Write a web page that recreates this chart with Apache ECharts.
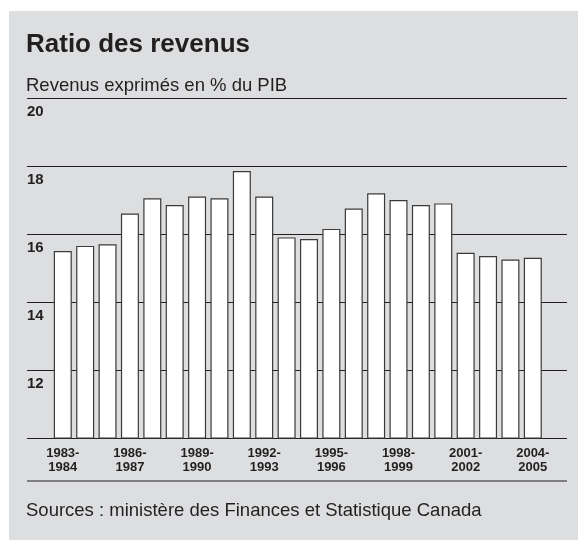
<!DOCTYPE html>
<html>
<head>
<meta charset="utf-8">
<script src="https://cdn.jsdelivr.net/npm/echarts@6/dist/echarts.min.js"></script>
<style>
  html, body { margin: 0; padding: 0; background: #ffffff; }
  #chart { width: 578px; height: 540px; }
</style>
</head>
<body>
<div id="chart"></div>
<script>
// ratio des revenus, % du PIB
const years = ['1983-1984', '1984-1985', '1985-1986', '1986-1987', '1987-1988', '1988-1989',
  '1989-1990', '1990-1991', '1991-1992', '1992-1993', '1993-1994', '1994-1995',
  '1995-1996', '1996-1997', '1997-1998', '1998-1999', '1999-2000', '2000-2001',
  '2001-2002', '2002-2003', '2003-2004', '2004-2005'];
const ratio = [15.5, 15.65, 15.7, 16.6, 17.05, 16.85, 17.1, 17.05, 17.85, 17.1, 15.9, 15.85,
  16.15, 16.75, 17.2, 17.0, 16.85, 16.9, 15.45, 15.35, 15.25, 15.3];
const yTicks = [10, 12, 14, 16, 18, 20];

const ink = '#231f20';
const chart = echarts.init(document.getElementById('chart'));

chart.setOption({
  animation: false,
  backgroundColor: '#ffffff',
  textStyle: { fontFamily: 'Liberation Sans' },
  title: [
    { text: 'Ratio des revenus', left: 21, top: 27,
      textStyle: { fontSize: 26, fontWeight: 'bold', color: ink } },
    { text: 'Revenus exprimés en % du PIB', left: 21, top: 71,
      textStyle: { fontSize: 18.5, fontWeight: 'normal', color: ink } },
    { text: 'Sources : ministère des Finances et Statistique Canada', left: 21, top: 496,
      textStyle: { fontSize: 18.5, fontWeight: 'normal', color: ink } }
  ],
  graphic: [
    { type: 'rect', z: -10, shape: { x: 9, y: 11, width: 569, height: 529 },
      style: { fill: '#dddee0' } },
    { type: 'line', shape: { x1: 27, y1: 481, x2: 567, y2: 481 },
      style: { stroke: ink, lineWidth: 1.2 } }
  ],
  grid: [
    { left: 27, right: 11, top: 98, bottom: 102 },
    { left: 51.6, right: 34, top: 98, bottom: 102 }
  ],
  xAxis: [
    { gridIndex: 0, type: 'value', min: 0, max: 1, show: false },
    {
      gridIndex: 1, type: 'category', data: years,
      axisLine: { show: false }, axisTick: { show: false },
      axisLabel: {
        interval: 2, margin: 8,
        fontFamily: 'Liberation Sans', fontWeight: 'bold', fontSize: 13,
        lineHeight: 14, color: ink,
        formatter: v => v.replace('-', '-\n')
      }
    }
  ],
  yAxis: [
    {
      gridIndex: 0, type: 'value', min: yTicks[0], max: yTicks[yTicks.length - 1], interval: 2,
      axisLine: { show: false }, axisTick: { show: false },
      splitLine: { show: true, lineStyle: { color: ink, width: 1.2 } },
      axisLabel: {
        inside: true, margin: 0, verticalAlign: 'top', padding: [6, 0, 0, 0],
        fontSize: 15, fontWeight: 'bold', color: ink,
        formatter: v => (v === yTicks[0] ? '' : String(v))
      }
    },
    { gridIndex: 1, type: 'value', min: 10, max: 20, show: false }
  ],
  series: [
    {
      type: 'bar', xAxisIndex: 1, yAxisIndex: 1, data: ratio,
      barWidth: 18,
      itemStyle: { color: '#ffffff', borderColor: '#3a3a3a', borderWidth: 1.2 }
    }
  ]
});
</script>
</body>
</html>
